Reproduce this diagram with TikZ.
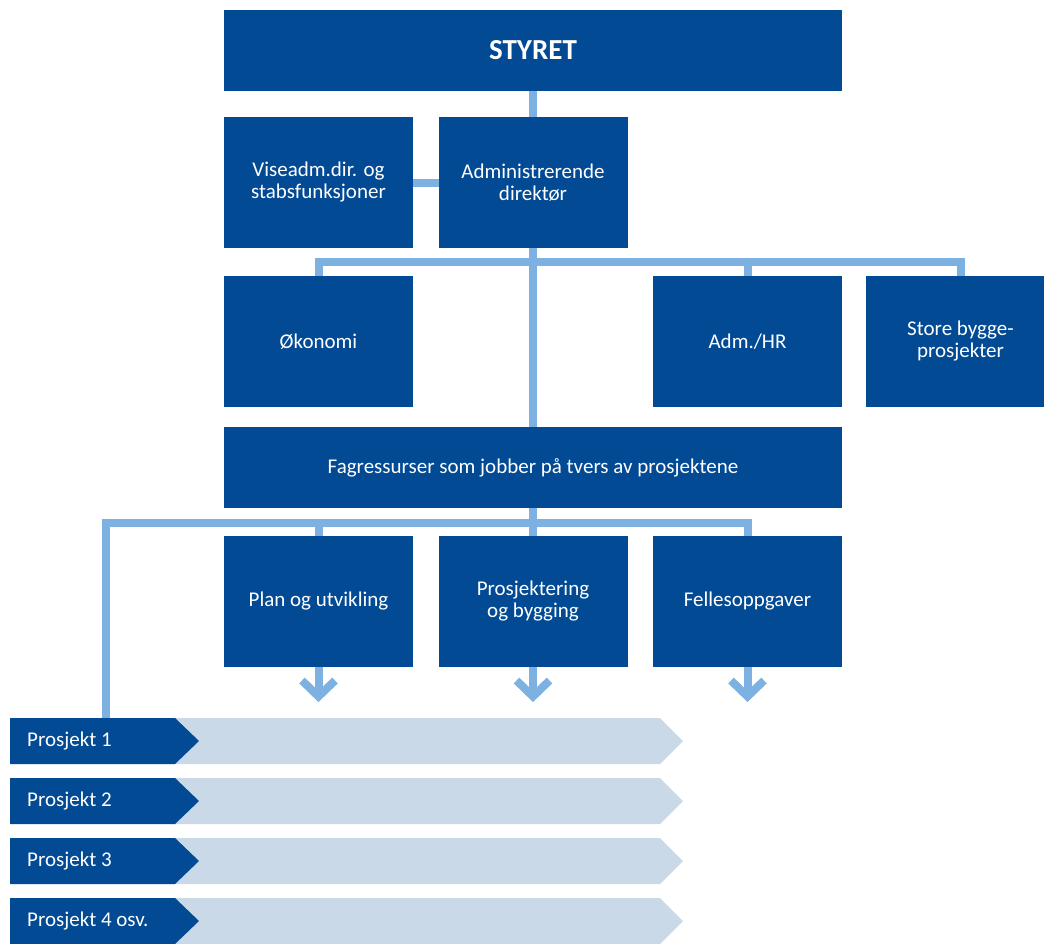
\documentclass[tikz,border=0pt]{standalone}
\usepackage{fontspec}
\setmainfont{Carlito}
\usetikzlibrary{backgrounds}
\definecolor{orgblue}{RGB}{2,74,148}
\definecolor{linkblue}{RGB}{125,177,225}
\definecolor{barblue}{RGB}{201,217,232}
\begin{document}
\begin{tikzpicture}[x=1pt, y=-1pt,
  box/.style={fill=orgblue, text=white, inner sep=0, outer sep=0, minimum width=189, minimum height=131, align=center, font=\fontsize{21}{22}\selectfont},
  wide/.style={box, minimum width=618, minimum height=81},
  link/.style={draw=linkblue, line width=8}]
\useasboundingbox (0,0) rectangle (1044,943);
\clip (0,0) rectangle (1044,943);

\node[wide, font=\fontsize{29}{30}\selectfont\bfseries] (styret) at (533,50.5) {STYRET};
\node[box] (vise) at (318.5,182.5) {Viseadm.dir. og\\stabsfunksjoner};
\node[box] (admdir) at (533,182.5) {Administrerende\\direktør};
\node[box] (okonomi) at (318.5,341.5) {Økonomi};
\node[box] (hr) at (747.5,341.5) {Adm./HR};
\node[box] (store) at (960.5,341.5) {Store bygge-\\prosjekter};
\node[wide] (fag) at (533,467.5) {Fagressurser som jobber på tvers av prosjektene};
\node[box] (plan) at (318.5,601) {Plan og utvikling};
\node[box] (prosj) at (533,601) {Prosjektering\\og bygging};
\node[box] (felles) at (747.5,601) {Fellesoppgaver};

\foreach \i/\txt in {1/Prosjekt 1,2/Prosjekt 2,3/Prosjekt 3,4/Prosjekt 4 osv.}
{
\pgfmathsetmacro{\y}{658+60*\i}
\fill[barblue] (170,\y) -- (660,\y) -- (683,\y+23) -- (660,\y+46) -- (170,\y+46) -- cycle;
\fill[orgblue] (10,\y) -- (175,\y) -- (199,\y+23) -- (175,\y+46) -- (10,\y+46) -- cycle;
\node[text=white, anchor=west, inner sep=0, font=\fontsize{21}{22}\selectfont] (prj\i) at (27,\y+23) {\txt};
}
\coordinate (prjtop) at (105.5,718);
\coordinate (bus1) at (533,262);
\coordinate (bus2) at (533,522.5);

\begin{scope}[on background layer]
\draw[link] (styret.south) -- (fag.north);
\draw[link] (vise.east) -- (admdir.west);
\draw[link] (okonomi.north) |- (bus1) -| (store.north);
\draw[link] (hr.north) -- (hr.north |- bus1);
\draw[link] (prjtop) |- (bus2) -| (felles.north);
\draw[link] (plan.north) -- (plan.north |- bus2);
\draw[link] (fag.south) -- (prosj.north);
\foreach \n in {plan,prosj,felles}
{
\draw[link] (\n.south) -- ++(0,30);
\draw[link] (\n.south) ++(-16.5,14) -- ++(16.5,16) -- ++(16.5,-16);
}
\end{scope}
\end{tikzpicture}
\end{document}
